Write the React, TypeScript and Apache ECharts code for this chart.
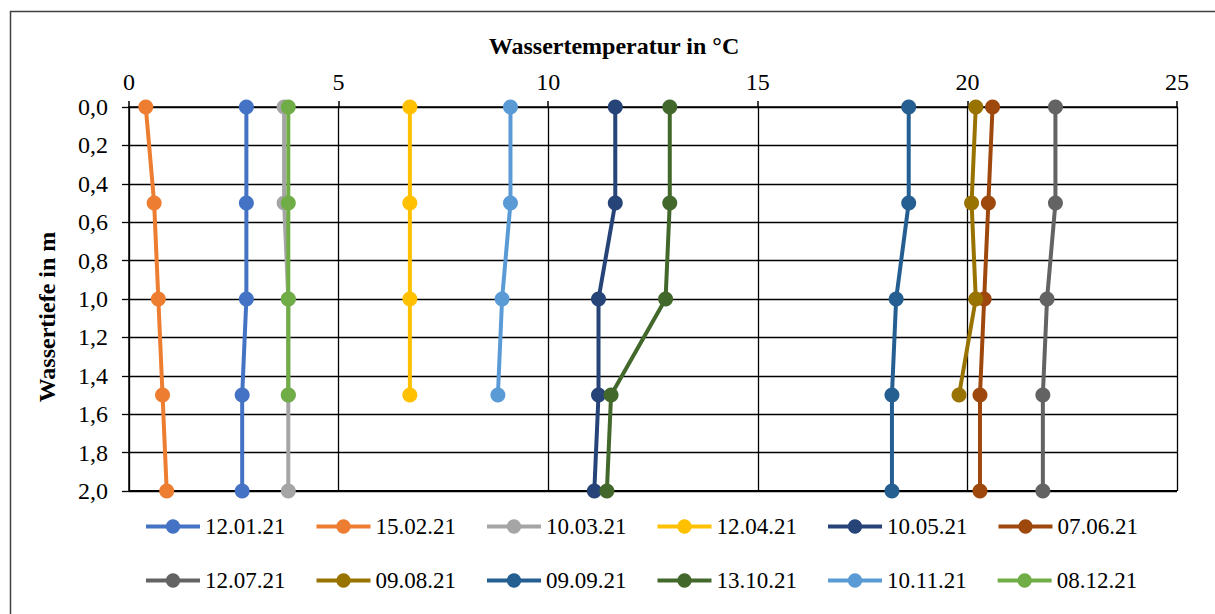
import React, { useEffect, useRef } from "react";
import * as echarts from "echarts";

const depths = [0, 0.5, 1.0, 1.5, 2.0];
const seriesNames = [
  "12.01.21", "15.02.21", "10.03.21", "12.04.21", "10.05.21", "07.06.21",
  "12.07.21", "09.08.21", "09.09.21", "13.10.21", "10.11.21", "08.12.21",
];
const colors = [
  "#4472C4", "#ED7D31", "#A5A5A5", "#FFC000", "#264478", "#9E480E",
  "#636363", "#997300", "#255E91", "#43682B", "#5B9BD5", "#70AD47",
];
const t120121 = [2.8, 2.8, 2.8, 2.7, 2.7];
const t150221 = [0.4, 0.6, 0.7, 0.8, 0.9];
const t100321 = [3.7, 3.7, 3.8, 3.8, 3.8];
const t120421 = [6.7, 6.7, 6.7, 6.7];
const t100521 = [11.6, 11.6, 11.2, 11.2, 11.1];
const t070621 = [20.6, 20.5, 20.4, 20.3, 20.3];
const t120721 = [22.1, 22.1, 21.9, 21.8, 21.8];
const t090821 = [20.2, 20.1, 20.2, 19.8];
const t090921 = [18.6, 18.6, 18.3, 18.2, 18.2];
const t131021 = [12.9, 12.9, 12.8, 11.5, 11.4];
const t101121 = [9.1, 9.1, 8.9, 8.8];
const t081221 = [3.8, 3.8, 3.8, 3.8];
const temps = [
  t120121, t150221, t100321, t120421, t100521, t070621,
  t120721, t090821, t090921, t131021, t101121, t081221,
];
const xTicks = { min: 0, max: 25, interval: 5 };
const yTicks = { min: 0, max: 2, interval: 0.2 };

const FONT = "Liberation Serif";

export default function App() {
  const ref = useRef<HTMLDivElement>(null);
  useEffect(() => {
    document.body.style.margin = "0";
    if (!ref.current) return;
    const chart = echarts.init(ref.current, null, { renderer: "svg" });
    const series = seriesNames.map((name, i) => ({
      name,
      type: "line",
      data: temps[i].map((t, j) => [t, depths[j]]),
      symbol: "circle",
      symbolSize: 15,
      lineStyle: { width: 4, color: colors[i] },
      itemStyle: { color: colors[i] },
      z: 2 + i,
    }));
    const legendCommon = {
      orient: "horizontal",
      left: 144,
      itemWidth: 54,
      itemHeight: 18,
      itemGap: 29,
      padding: 0,
      lineStyle: { width: 4 },
      textStyle: { fontFamily: FONT, fontSize: 23, color: "#000" },
    };
    chart.setOption({
      animation: false,
      backgroundColor: "#fff",
      color: colors,
      textStyle: { fontFamily: FONT },
      grid: { left: 129, right: 38, top: 107, bottom: 123, containLabel: false },
      xAxis: {
        type: "value",
        position: "top",
        min: xTicks.min,
        max: xTicks.max,
        interval: xTicks.interval,
        axisLine: { show: true, lineStyle: { color: "#000", width: 1.5 } },
        axisTick: { show: true, length: 6, lineStyle: { color: "#000", width: 1.5 } },
        axisLabel: { fontFamily: FONT, fontSize: 24, color: "#000", margin: 13 },
        splitLine: { show: true, lineStyle: { color: "#000", width: 1.3 } },
      },
      yAxis: {
        type: "value",
        inverse: true,
        min: yTicks.min,
        max: yTicks.max,
        interval: yTicks.interval,
        axisLine: { show: true, lineStyle: { color: "#000", width: 1.5 } },
        axisTick: { show: true, length: 7, lineStyle: { color: "#000", width: 1.3 } },
        axisLabel: {
          fontFamily: FONT,
          fontSize: 24,
          color: "#000",
          margin: 21,
          formatter: (v: number) => v.toFixed(1).replace(".", ","),
        },
        splitLine: { show: true, lineStyle: { color: "#000", width: 1.3 } },
      },
      legend: [
        { ...legendCommon, top: 515, data: seriesNames.slice(0, 6) },
        { ...legendCommon, top: 569, data: seriesNames.slice(6, 12) },
      ],
      graphic: [
        {
          type: "rect",
          shape: { x: 10.5, y: 11.5, width: 1220, height: 620 },
          style: { fill: "none", stroke: "#404040", lineWidth: 1.5 },
          z: -10,
        },
        {
          type: "line",
          shape: { x1: 129, y1: 491, x2: 1177, y2: 491 },
          style: { stroke: "#000", lineWidth: 2.2 },
          z: 1,
        },
        {
          type: "text",
          x: 614,
          y: 46,
          style: {
            text: "Wassertemperatur in °C",
            fontFamily: FONT,
            fontSize: 24,
            fontWeight: "bold",
            fill: "#000",
            align: "center",
            verticalAlign: "middle",
          },
        },
        {
          type: "text",
          x: 47,
          y: 317,
          rotation: Math.PI / 2,
          style: {
            text: "Wassertiefe in m",
            fontFamily: FONT,
            fontSize: 24,
            fontWeight: "bold",
            fill: "#000",
            align: "center",
            verticalAlign: "middle",
          },
        },
      ],
      series,
    });
    return () => chart.dispose();
  }, []);
  return <div ref={ref} style={{ width: 1215, height: 614 }} />;
}
